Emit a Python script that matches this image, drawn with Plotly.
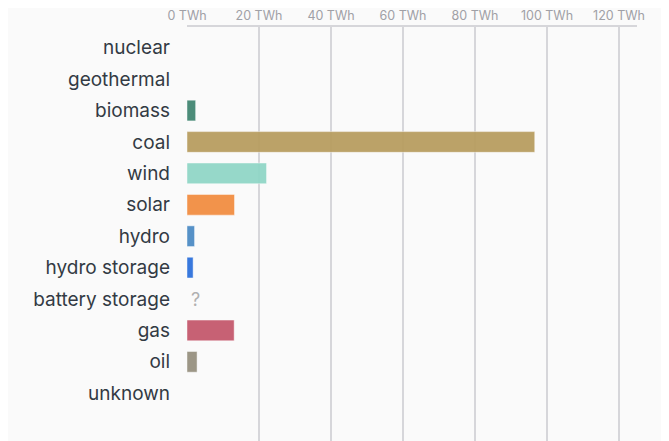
import plotly.graph_objects as go

categories = ["nuclear", "geothermal", "biomass", "coal", "wind", "solar",
              "hydro", "hydro storage", "battery storage", "gas", "oil", "unknown"]
values_twh = [None, None, 2.4, 96.6, 22.1, 13.2, 2.1, 1.7, None, 13.1, 2.8, None]
unknown_labels = {"battery storage": "?"}
tick_vals = [0, 20, 40, 60, 80, 100, 120]
tick_text = [f"{v} TWh" for v in tick_vals]

colors = ["#888888", "#888888", "#3f8470", "#b79c5e", "#8fd6c6", "#f28c3e",
          "#4a8ac4", "#2a6fdb", "#888888", "#c4566a", "#958f7e", "#888888"]

fig = go.Figure()
fig.add_trace(go.Bar(
    x=values_twh, y=categories, orientation="h",
    marker=dict(color=colors, opacity=0.93,
                line=dict(color="rgba(255,255,255,0.45)", width=1)),
    width=0.66, hoverinfo="x+y",
))

for cat, txt in unknown_labels.items():
    fig.add_annotation(x=0, y=cat, text=txt, showarrow=False, xanchor="left",
                       xshift=2, font=dict(size=18, color="#b0b0b0", family="Inter"))

fig.update_layout(
    width=661, height=433,
    margin=dict(l=179, r=32, t=16, b=0),
    paper_bgcolor="#fafafa", plot_bgcolor="#fafafa",
    font=dict(family="Inter", color="#333a44"),
    showlegend=False,
    xaxis=dict(side="top", range=[0, 125], tickvals=tick_vals, ticktext=tick_text,
               tickfont=dict(size=12.5, color="#a0a0a6"),
               showgrid=True, gridcolor="#d6d6da", gridwidth=1.5,
               showline=True, linecolor="#d6d6da", linewidth=1.5,
               zeroline=False, ticks="", fixedrange=True),
    yaxis=dict(categoryorder="array", categoryarray=categories,
               range=[12.52, -0.66], tickfont=dict(size=19, color="#333a44"),
               ticks="", ticklabelstandoff=16, showgrid=False, zeroline=False,
               fixedrange=True),
)

fig.write_html("out.html")
